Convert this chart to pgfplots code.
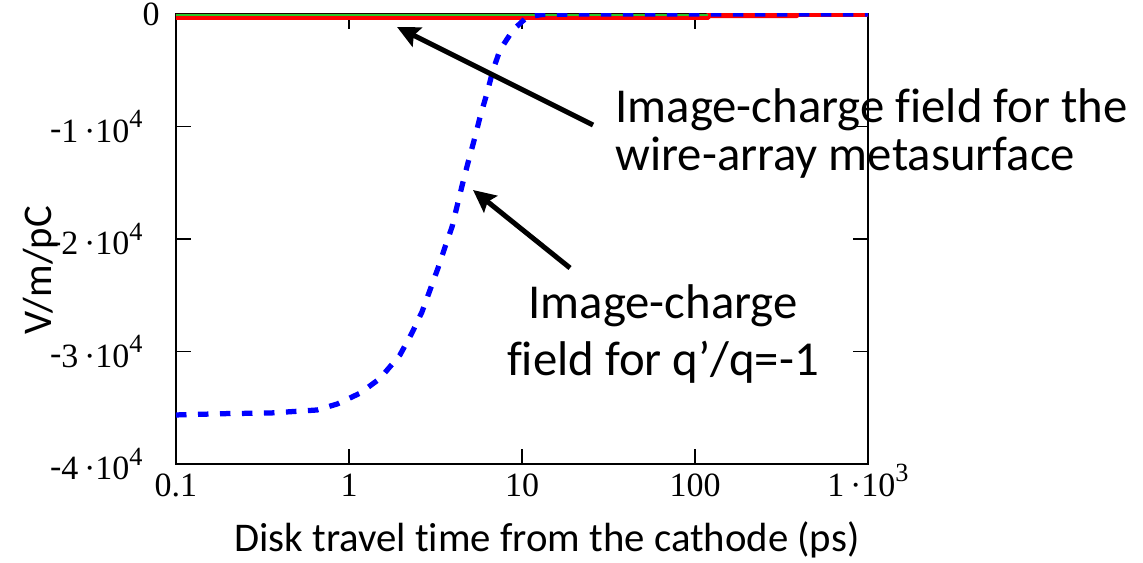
\documentclass[border=0pt]{standalone}
\usepackage{fontspec}
\setmainfont{Carlito}[Ligatures=NoCommon]
\newfontfamily\tickfont{Liberation Serif}
\usepackage{pgfplots}
\pgfplotsset{compat=1.18}
\usetikzlibrary{arrows.meta}

\definecolor{imgblue}{RGB}{0,0,255}
\definecolor{wirered}{RGB}{255,0,0}
\definecolor{refgreen}{RGB}{40,200,40}

% Mathcad-like tick labels: m·10^e
\newcommand{\tsup}[1]{\raisebox{0.42em}{\fontsize{10.5}{10.5}\selectfont #1}}
\newcommand{\tneg}{\raisebox{0.07em}{-}}

\begin{document}
\begin{tikzpicture}
% fixed page: 1143 x 562 px at 0.4pt per px, axis box at origin
\useasboundingbox (-70.4pt,-39.2pt) rectangle (386.8pt,185.6pt);
\begin{axis}[
    scale only axis, width=276.8pt, height=180pt,
    xmode=log, xmin=0.1, xmax=1000,
    ymin=-40000, ymax=0,
    xtick={0.1,1,10,100,1000},
    xticklabels={0.1,1,10,100,1\,·10\tsup{3}},
    ytick={-40000,-30000,-20000,-10000,0},
    yticklabels={\tneg4\,·10\tsup{4},\tneg3\,·10\tsup{4},\tneg2\,·10\tsup{4},\tneg1\,·10\tsup{4},0\kern-8pt},
    scaled y ticks=false,
    tick label style={font=\tickfont\fontsize{13.6}{15}\selectfont},
    xticklabel style={anchor=base, inner sep=0pt, yshift=-12.8pt},
    yticklabel style={anchor=east, inner sep=0pt, xshift=-13.2pt},
    tick align=inside, major tick length=6pt, minor tick length=0pt,
    every tick/.style={black, line width=0.6pt},
    axis line style={line width=0.8pt},
    xlabel={Disk travel time from the cathode (ps)},
    xlabel style={at={(axis description cs:0.536,0)}, anchor=base, yshift=-34.8pt,
                  font=\fontsize{16.3}{19}\selectfont},
    ylabel={V/m/pC},
    ylabel style={at={(axis description cs:-0.1792,0.431)}, anchor=base,
                  font=\fontsize{16.3}{19}\selectfont},
    clip mode=individual,
]
    % wire-array metasurface (nearly zero)
    \addplot[wirered, line width=2.4pt] coordinates {
        (0.1,-250) (118,-250) (121,-90) (385,-90) (395,0) (1000,0)
    };
    \addplot[refgreen, line width=0.7pt] coordinates {
        (0.1,-60) (119,-60)
    };
    % q'/q = -1
    \addplot[imgblue, line width=2.1pt, dash pattern=on 4.2pt off 4.6pt] coordinates {
        (0.1,-35640) (0.197,-35520) (0.349,-35470) (0.653,-35200) (0.853,-34670)
        (1.16,-33700) (1.51,-32400) (1.97,-30310) (2.31,-28360) (2.64,-26490)
        (2.94,-24530) (3.27,-22580) (3.59,-20710) (3.94,-18930) (4.27,-16710)
        (4.56,-14930) (4.87,-13240) (5.35,-10930) (5.72,-9160) (6.28,-7020)
        (6.80,-4980) (7.46,-3200) (8.87,-1420) (10.7,-270) (13,-50) (20,0)
        (100,0) (1000,0)
    };
    \draw[line width=2pt, -{Stealth[length=9pt, width=8.5pt, inset=1.5pt]}]
        (rel axis cs:0.6026,0.7533) -- (rel axis cs:0.3194,0.9711);
    \draw[line width=2pt, -{Stealth[length=9pt, width=8.5pt, inset=1.5pt]}]
        (rel axis cs:0.5694,0.4356) -- (rel axis cs:0.4292,0.6089);
    \begin{scope}[every node/.style={font=\fontsize{19.5}{20}\selectfont, inner sep=0pt}]
    \node[anchor=base west] at (rel axis cs:0.6344,0.76) {Image-charge field for the};
    \node[anchor=base west] at (rel axis cs:0.6344,0.6533) {wire-array metasurface};
    \node[anchor=base] at (rel axis cs:0.7038,0.3244) {Image-charge};
    \node[anchor=base] at (rel axis cs:0.7038,0.1956) {field for q’/q=-1};
    \end{scope}
\end{axis}
\end{tikzpicture}
\end{document}
